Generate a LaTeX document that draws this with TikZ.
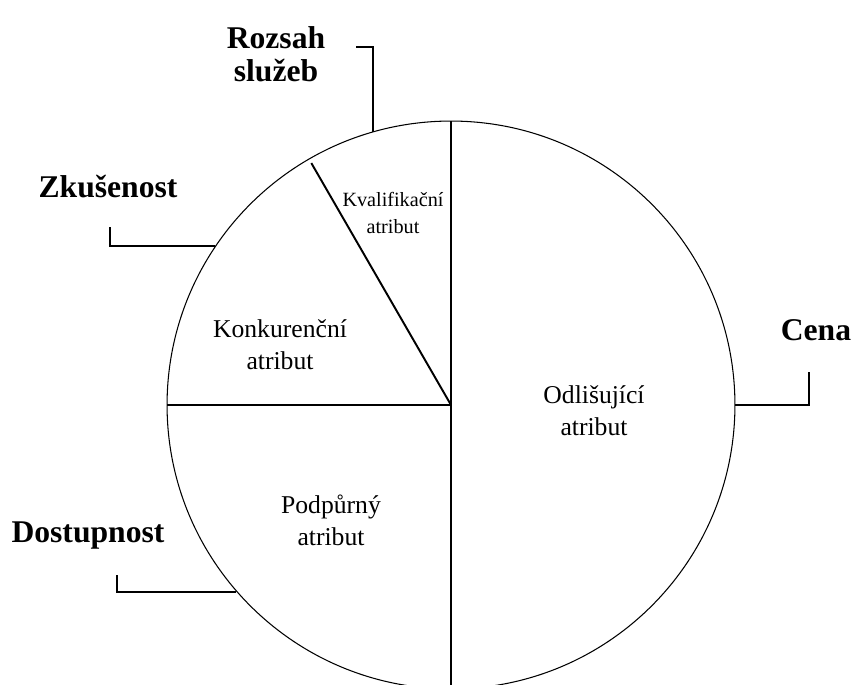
\documentclass[tikz,border=0pt]{standalone}
\usepackage{fontspec}
\setmainfont{Liberation Serif}
\usetikzlibrary{positioning,calc}

\begin{document}
\begin{tikzpicture}[x=0.02cm, y=-0.02cm,
		% Node styles
		wheel/.style={draw=black, circle, line width=0.6pt, minimum size=11.36cm, inner sep=0pt},
		category/.style={font=\fontsize{18}{19}\selectfont\bfseries, align=center, inner sep=0pt},
		attribute/.style={font=\fontsize{14.6}{18.2}\selectfont, align=center, inner sep=0pt},
		small_attribute/.style={font=\fontsize{11.5}{15.4}\selectfont, align=center, inner sep=0pt},
		divider/.style={draw=black, line width=1.1pt},
		bracket/.style={draw=black, line width=1.1pt},
	]

	\useasboundingbox (0,0) rectangle (853,685);

	% The wheel and its sectors
	\node[wheel] (wheel) at (451,405) {};
	\draw[divider, line width=0.9pt] (wheel.center) -- (wheel.90);
	\draw[divider, line width=1.5pt] (wheel.center) -- (wheel.270);
	\draw[divider] (wheel.center) -- (wheel.180);
	\draw[divider] (wheel.center) -- ($(wheel.center)!0.982!(wheel.120)$);

	% Attributes inside the sectors
	\node[small_attribute] (kvalifikacni) at (393,213) {Kvalifikační\\atribut};
	\node[attribute] (konkurencni) at (280,345) {Konkurenční\\atribut};
	\node[attribute] (odlisujici) at (594,411) {Odlišující\\atribut};
	\node[attribute] (podpurny) at (331,520) {Podpůrný\\atribut};

	% Categories around the wheel
	\node[category] (rozsah) at (276,54) {Rozsah\\služeb};
	\node[category] (zkusenost) at (108,187) {Zkušenost};
	\node[category] (cena) at (816,330) {Cena};
	\node[category] (dostupnost) at (88,536) {Dostupnost};

	% Bracket ends
	\coordinate (rozsah_end) at (356,47);
	\coordinate (zkusenost_end) at (110,227);
	\coordinate (cena_end) at (809,372);
	\coordinate (dostupnost_end) at (117,575);

	% Brackets
	\draw[bracket] (wheel.106.4) |- (rozsah_end);
	\draw[bracket] (wheel.146.5) -| (zkusenost_end);
	\draw[bracket] (wheel.0) -| (cena_end);
	\draw[bracket] (wheel.221.1) -| (dostupnost_end);

\end{tikzpicture}
\end{document}
